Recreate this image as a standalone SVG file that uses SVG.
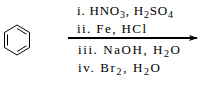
<svg xmlns="http://www.w3.org/2000/svg" width="206" height="85" viewBox="0 0 206 85">
<style>
text{font-family:"Liberation Serif","Times New Roman",serif;font-size:13px;fill:#000}
.sub{font-size:10px}
.bond{stroke:#000;stroke-width:1;fill:none}
.arr{stroke:#000;stroke-width:2;fill:none}
</style>
<defs>
<marker id="ah" markerWidth="9" markerHeight="6" refX="8" refY="3" orient="auto" markerUnits="userSpaceOnUse">
<path d="M0,0 L9,3 L0,6 L2,3 Z" fill="#000"/>
</marker>
</defs>
<g id="benzene">
<polygon class="bond" points="17,25 29.5,32.5 29.5,47.5 17,55 4.5,47.5 4.5,32.5"/>
<line class="bond" x1="17" y1="28.5" x2="26.5" y2="34.2"/>
<line class="bond" x1="26.5" y1="45.8" x2="17" y2="51.5"/>
<line class="bond" x1="7.5" y1="34.5" x2="7.5" y2="45.5"/>
</g>
<g id="connectors">
<line class="arr" x1="68" y1="38" x2="197" y2="38" marker-end="url(#ah)"/>
</g>
<g id="reagents">
<text x="77" y="15" textLength="96" lengthAdjust="spacing">i. HNO<tspan class="sub" dy="3">3</tspan><tspan dy="-3">, H</tspan><tspan class="sub" dy="3">2</tspan><tspan dy="-3">SO</tspan><tspan class="sub" dy="3">4</tspan></text>
<text x="77" y="33" textLength="69" lengthAdjust="spacing">ii. Fe, HCl</text>
<text x="78" y="54" textLength="102" lengthAdjust="spacing">iii. NaOH, H<tspan class="sub" dy="3">2</tspan><tspan dy="-3">O</tspan></text>
<text x="78" y="72" textLength="82" lengthAdjust="spacing">iv. Br<tspan class="sub" dy="3">2</tspan><tspan dy="-3">, H</tspan><tspan class="sub" dy="3">2</tspan><tspan dy="-3">O</tspan></text>
</g>
</svg>
